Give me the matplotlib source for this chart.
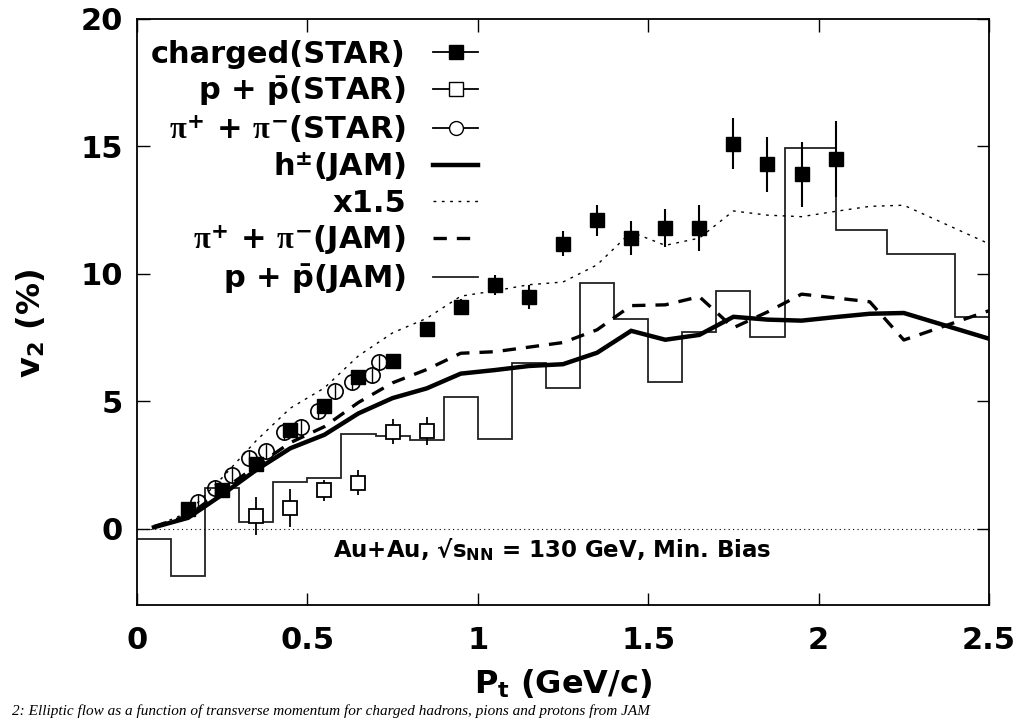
import numpy as np
import matplotlib
matplotlib.use('Agg')
import matplotlib.pyplot as plt
from matplotlib.lines import Line2D

plt.rcParams['font.family'] = ['DejaVu Sans']
plt.rcParams['font.weight'] = 'bold'
plt.rcParams['mathtext.fontset'] = 'custom'
plt.rcParams['mathtext.rm'] = 'DejaVu Sans:bold'
plt.rcParams['mathtext.bf'] = 'DejaVu Sans:bold'
plt.rcParams['mathtext.it'] = 'Liberation Serif'

# STAR charged hadrons
ch_pt = [0.15, 0.25, 0.35, 0.45, 0.55, 0.65, 0.75, 0.85, 0.95, 1.05,
         1.15, 1.25, 1.35, 1.45, 1.55, 1.65, 1.75, 1.85, 1.95, 2.05]
ch_v2 = [0.75, 1.53, 2.55, 3.88, 4.82, 5.96, 6.59, 7.84, 8.71, 9.57,
         9.1, 11.18, 12.1, 11.4, 11.8, 11.8, 15.1, 14.3, 13.9, 14.5]
ch_err = [0.2, 0.2, 0.2, 0.2, 0.2, 0.2, 0.2, 0.25, 0.3, 0.4,
          0.47, 0.5, 0.6, 0.67, 0.75, 0.9, 1.0, 1.08, 1.27, 1.5]

# STAR protons
pr_pt = [0.35, 0.45, 0.55, 0.65, 0.75, 0.85]
pr_v2 = [0.5, 0.82, 1.5, 1.8, 3.8, 3.84]
pr_err = [0.75, 0.75, 0.42, 0.5, 0.5, 0.55]

# STAR pions
pi_pt = [0.18, 0.23, 0.28, 0.33, 0.38, 0.43, 0.48, 0.53, 0.58, 0.63, 0.69, 0.71]
pi_v2 = [1.06, 1.6, 2.1, 2.78, 3.03, 3.78, 3.98, 4.6, 5.38, 5.75, 6.02, 6.52]
pi_err = [0.3] * 12

# JAM curves
jam_pt = [0.05, 0.15, 0.25, 0.35, 0.45, 0.55, 0.65, 0.75, 0.85, 0.95, 1.05, 1.15,
          1.25, 1.35, 1.45, 1.55, 1.65, 1.75, 1.85, 1.95, 2.05, 2.15, 2.25, 2.5]
h_jam = [0.05, 0.42, 1.33, 2.3, 3.15, 3.68, 4.52, 5.12, 5.5, 6.08, 6.22, 6.38,
         6.45, 6.9, 7.76, 7.41, 7.6, 8.31, 8.2, 8.16, 8.3, 8.43, 8.46, 7.45]
pi_jam = [0.08, 0.5, 1.5, 2.45, 3.37, 4.0, 4.95, 5.72, 6.24, 6.88, 6.94, 7.12,
          7.3, 7.8, 8.75, 8.78, 9.1, 7.88, 8.5, 9.2, 9.05, 8.9, 7.4, 8.55]
scale = 1.5

# JAM protons (histogram)
pj_edges = [0.0, 0.1, 0.2, 0.3, 0.4, 0.5, 0.6, 0.7, 0.8, 0.9, 1.0, 1.1, 1.2,
            1.3, 1.4, 1.5, 1.6, 1.7, 1.8, 1.9, 2.05, 2.2, 2.4, 2.6]
pj_v2 = [-0.4, -1.88, 1.6, 0.27, 1.84, 2.0, 3.73, 3.63, 3.49, 5.18, 3.53, 6.5,
         5.53, 9.65, 8.24, 5.76, 7.73, 9.33, 7.5, 14.95, 11.72, 10.78, 8.3]

fig = plt.figure(figsize=(10.19, 7.19), dpi=100)
ax = fig.add_axes([0.1344, 0.1586, 0.8362, 0.815])

ax.axhline(0, color='black', lw=0.8, ls=(0, (1, 3)))

ax.plot(jam_pt, h_jam, color='black', lw=3.2, solid_joinstyle='miter')
ax.plot(jam_pt, np.array(h_jam) * scale, color='black', lw=1.0, ls=(0, (2, 4)))
ax.plot(jam_pt, pi_jam, color='black', lw=2.4, ls=(0, (4, 3)))
ax.stairs(pj_v2, pj_edges, baseline=None, color='#222222', lw=1.3)

ax.errorbar(ch_pt, ch_v2, yerr=ch_err, fmt='s', color='black', ms=10,
            mec='black', mfc='black', elinewidth=1.5, capsize=0)
ax.errorbar(pr_pt, pr_v2, yerr=pr_err, fmt='s', color='black', ms=10,
            mfc='white', mec='black', mew=1.3, elinewidth=1.3, capsize=0)
ax.errorbar(pi_pt, pi_v2, yerr=pi_err, fmt='o', color='black', ms=11,
            mfc='none', mec='black', mew=1.2, elinewidth=1.0, capsize=0)

ax.set_xlim(0, 2.5)
ax.set_ylim(-3, 20)
ax.set_xticks([0, 0.5, 1, 1.5, 2, 2.5])
ax.set_xticklabels(['0', '0.5', '1', '1.5', '2', '2.5'])
ax.set_yticks([0, 5, 10, 15, 20])
ax.tick_params(direction='in', length=9, width=1.0, labelsize=22,
               top=True, right=True)
ax.tick_params(axis='x', pad=15)
ax.tick_params(axis='y', pad=10)
for s in ax.spines.values():
    s.set_linewidth(1.3)

ax.set_xlabel(r'P$_{\mathbf{t}}$ (GeV/c)', fontsize=23, fontweight='bold', labelpad=9)
ax.set_ylabel(r'v$_{\mathbf{2}}$ (%)', fontsize=23, fontweight='bold')
ax.yaxis.set_label_coords(-0.105, 0.48)

ax.text(0.575, -0.85, '\u221as$_{\\mathrm{NN}}$'.join(['Au+Au, ', ' = 130 GeV, Min. Bias']),
        fontsize=16.5, fontweight='bold', va='center', ha='left')

handles = [
    Line2D([], [], color='black', lw=1.3, marker='s', ms=10, mfc='black'),
    Line2D([], [], color='black', lw=1.3, marker='s', ms=10, mfc='white'),
    Line2D([], [], color='black', lw=1.3, marker='o', ms=10, mfc='white'),
    Line2D([], [], color='black', lw=3.2),
    Line2D([], [], color='black', lw=1.0, ls=(0, (2, 4))),
    Line2D([], [], color='black', lw=2.4, ls=(0, (4, 3))),
    Line2D([], [], color='#222222', lw=1.3),
]
labels = ['charged(STAR)', r'p + $\bar{\mathrm{p}}$(STAR)',
          r'$\pi^{\mathbf{+}}$ + $\pi^{\mathbf{-}}$(STAR)', r'h$^{\pm}$(JAM)', 'x1.5',
          r'$\pi^{\mathbf{+}}$ + $\pi^{\mathbf{-}}$(JAM)', r'p + $\bar{\mathrm{p}}$(JAM)']
leg = ax.legend(handles, labels, loc='upper right', bbox_to_anchor=(0.40, 0.964),
                frameon=False, fontsize=22, markerfirst=False, handlelength=1.45,
                handletextpad=0.9, labelspacing=0.17, borderaxespad=0.0,
                borderpad=0.0, alignment='right')
for t in leg.get_texts():
    t.set_ha('right')
leg._legend_box.align = 'right'

fig.text(0.012, 0.001, '2: Elliptic flow as a function of transverse momentum for charged hadrons, pions and protons from JAM',
         fontsize=11, family='Liberation Serif', style='italic', fontweight='normal',
         va='bottom', ha='left')

fig.savefig('out.png', dpi=100)
